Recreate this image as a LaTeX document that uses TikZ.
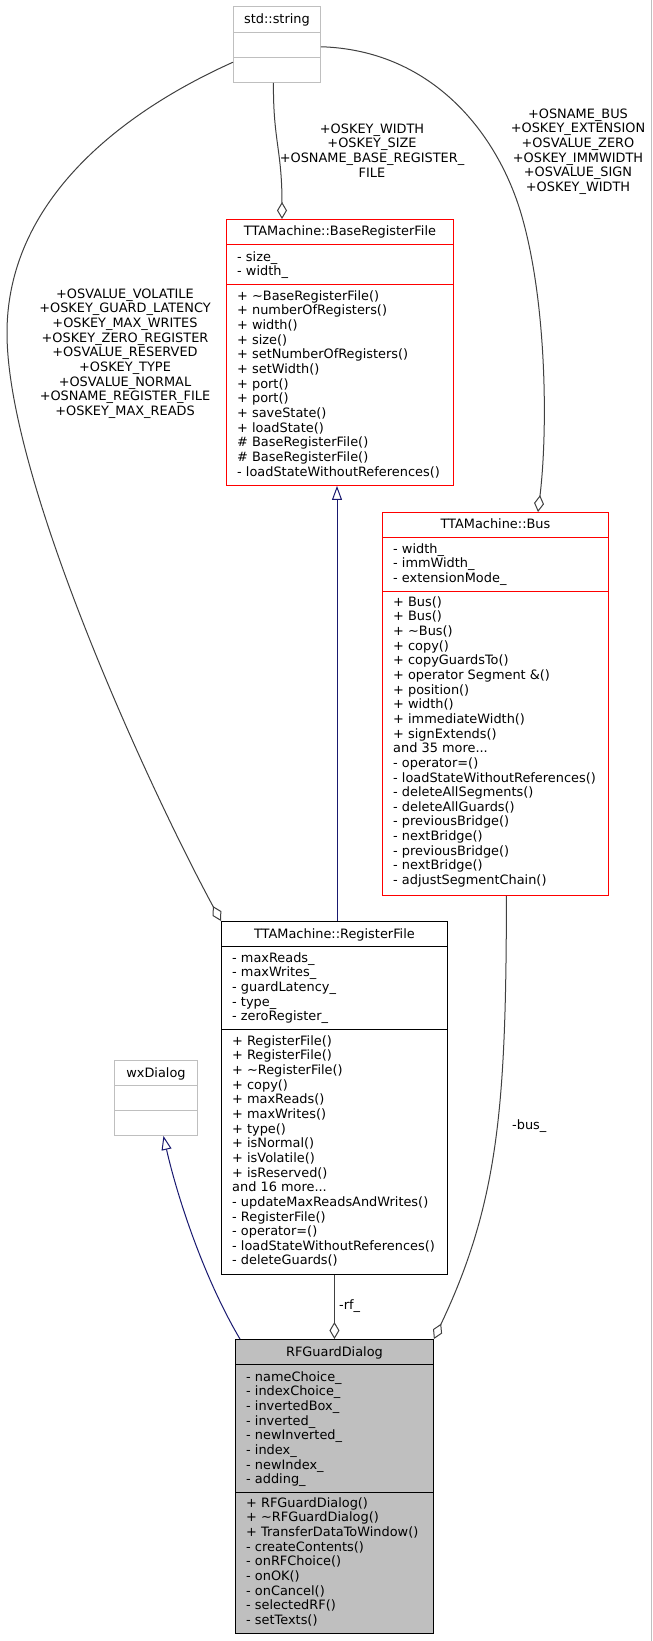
\documentclass[tikz,border=0pt]{standalone}
\usepackage{fontspec}
\setmainfont{DejaVu Sans}
\usetikzlibrary{arrows.meta, positioning, calc}

\definecolor{edgegray}{HTML}{404040}
\definecolor{inheritblue}{HTML}{191970}
\definecolor{boxgray}{HTML}{BFBFBF}

\tikzset{
	umlfont/.style={font=\fontsize{12.9}{14.65}\selectfont},
	classbox/.style={draw, rectangle, anchor=north west, inner sep=0pt, line width=0.9pt},
	classname/.style={umlfont, inner sep=0pt, text height=9.4pt, text depth=0pt},
	members/.style={umlfont, inner sep=0pt, anchor=north west, align=left, execute at begin node=\strut},
	edgelabel/.style={umlfont, inner sep=0pt, anchor=north, align=center, execute at begin node=\strut},
	aggregation/.style={edgegray, line width=1pt, -{Diamond[open, length=17pt, width=10pt]}},
	inheritance/.style={inheritblue, line width=1pt, -{Triangle[open, length=14pt, width=10pt]}},
}

\begin{document}
\begin{tikzpicture}[x=1pt, y=1pt]
		\fill[white] (0,0) rectangle (653,-1641);
		\useasboundingbox (0,0) rectangle (653,-1641);
		\draw[boxgray, line width=1pt] (651.5,0) -- (651.5,-1641);
		
		% std::string
		\node[classbox, draw=boxgray, minimum width=87pt, minimum height=76pt] (str) at (233,-6) {};
		\node[classname] (str-name) at (str.north |- 0,-18.5) {std::string};
		\draw[boxgray, line width=0.9pt] (str.west |- 0,-32) -- (str.east |- 0,-32);
		\draw[boxgray, line width=0.9pt] (str.west |- 0,-57) -- (str.east |- 0,-57);
		
		% TTAMachine::BaseRegisterFile
		\node[classbox, draw=red, minimum width=227pt, minimum height=266pt] (brf) at (226,-219) {};
		\node[classname] (brf-name) at (brf.north |- 0,-231) {TTAMachine::BaseRegisterFile};
		\draw[red, line width=0.9pt] (brf.west |- 0,-244) -- (brf.east |- 0,-244);
		\draw[red, line width=0.9pt] (brf.west |- 0,-284) -- (brf.east |- 0,-284);
		\node[members] (brf-attr) at (237,-251.2) {- size\_\\- width\_};
		\node[members] (brf-ops) at (237,-290.2) {+ \textasciitilde BaseRegisterFile()\\+ numberOfRegisters()\\+ width()\\+ size()\\+ setNumberOfRegisters()\\+ setWidth()\\+ port()\\+ port()\\+ saveState()\\+ loadState()\\\# BaseRegisterFile()\\\# BaseRegisterFile()\\- loadStateWithoutReferences()};
		
		% TTAMachine::Bus
		\node[classbox, draw=red, minimum width=226pt, minimum height=383pt] (bus) at (382,-512) {};
		\node[classname] (bus-name) at (bus.north |- 0,-524) {TTAMachine::Bus};
		\draw[red, line width=0.9pt] (bus.west |- 0,-537) -- (bus.east |- 0,-537);
		\draw[red, line width=0.9pt] (bus.west |- 0,-591) -- (bus.east |- 0,-591);
		\node[members] (bus-attr) at (393,-543.2) {- width\_\\- immWidth\_\\- extensionMode\_};
		\node[members] (bus-ops) at (393,-596.2) {+ Bus()\\+ Bus()\\+ \textasciitilde Bus()\\+ copy()\\+ copyGuardsTo()\\+ operator Segment \&()\\+ position()\\+ width()\\+ immediateWidth()\\+ signExtends()\\and 35 more...\\- operator=()\\- loadStateWithoutReferences()\\- deleteAllSegments()\\- deleteAllGuards()\\- previousBridge()\\- nextBridge()\\- previousBridge()\\- nextBridge()\\- adjustSegmentChain()};
		
		% TTAMachine::RegisterFile
		\node[classbox, minimum width=226pt, minimum height=353pt] (rf) at (221,-921) {};
		\node[classname] (rf-name) at (rf.north |- 0,-933.5) {TTAMachine::RegisterFile};
		\draw[line width=0.9pt] (rf.west |- 0,-946) -- (rf.east |- 0,-946);
		\draw[line width=0.9pt] (rf.west |- 0,-1029) -- (rf.east |- 0,-1029);
		\node[members] (rf-attr) at (232,-952.2) {- maxReads\_\\- maxWrites\_\\- guardLatency\_\\- type\_\\- zeroRegister\_};
		\node[members] (rf-ops) at (232,-1035.2) {+ RegisterFile()\\+ RegisterFile()\\+ \textasciitilde RegisterFile()\\+ copy()\\+ maxReads()\\+ maxWrites()\\+ type()\\+ isNormal()\\+ isVolatile()\\+ isReserved()\\and 16 more...\\- updateMaxReadsAndWrites()\\- RegisterFile()\\- operator=()\\- loadStateWithoutReferences()\\- deleteGuards()};
		
		% wxDialog
		\node[classbox, draw=boxgray, minimum width=83pt, minimum height=75pt] (wx) at (114,-1060) {};
		\node[classname] (wx-name) at (wx.north |- 0,-1072.5) {wxDialog};
		\draw[boxgray, line width=0.9pt] (wx.west |- 0,-1085) -- (wx.east |- 0,-1085);
		\draw[boxgray, line width=0.9pt] (wx.west |- 0,-1110) -- (wx.east |- 0,-1110);
		
		% RFGuardDialog
		\node[classbox, fill=boxgray, minimum width=198pt, minimum height=294pt] (rfg) at (235,-1339) {};
		\node[classname] (rfg-name) at (rfg.north |- 0,-1351.5) {RFGuardDialog};
		\draw[line width=0.9pt] (rfg.west |- 0,-1364) -- (rfg.east |- 0,-1364);
		\draw[line width=0.9pt] (rfg.west |- 0,-1492) -- (rfg.east |- 0,-1492);
		\node[members] (rfg-attr) at (246,-1371.2) {- nameChoice\_\\- indexChoice\_\\- invertedBox\_\\- inverted\_\\- newInverted\_\\- index\_\\- newIndex\_\\- adding\_};
		\node[members] (rfg-ops) at (246,-1497.2) {+ RFGuardDialog()\\+ \textasciitilde RFGuardDialog()\\+ TransferDataToWindow()\\- createContents()\\- onRFChoice()\\- onOK()\\- onCancel()\\- selectedRF()\\- setTexts()};
		
		% Relations
		\draw[aggregation] (str.202) .. controls (122,-112) and (7,-200) .. (7,-333) .. controls (7,-480) and (150,-790) .. (rf.north west);
		\draw[aggregation] ([xshift=-3.5pt]str.south) .. controls (273,-140) and (282,-150) .. ([xshift=56pt]brf.north west);
		\draw[aggregation] (str.357) .. controls (430,-50) and (495,-130) .. (520,-210) .. controls (547,-298) and (548,-430) .. ([xshift=156pt]bus.north west);
		\draw[inheritance] (rf.north -| 337,0) -- (brf.south -| 337,0);
		\draw[aggregation] (rf.south) -- (rfg.north);
		\draw[aggregation] ([xshift=11pt]bus.south) .. controls (506,-1100) and (500,-1200) .. (rfg.north east);
		\draw[inheritance] ([xshift=5pt]rfg.north west) .. controls (205,-1280) and (178,-1200) .. ([xshift=7.5pt]wx.south);
		
		% Relation labels
		\node[edgelabel] (rf-keys) at (125,-288.5) {+OSVALUE\_VOLATILE\\+OSKEY\_GUARD\_LATENCY\\+OSKEY\_MAX\_WRITES\\+OSKEY\_ZERO\_REGISTER\\+OSVALUE\_RESERVED\\+OSKEY\_TYPE\\+OSVALUE\_NORMAL\\+OSNAME\_REGISTER\_FILE\\+OSKEY\_MAX\_READS};
		\node[edgelabel] (brf-keys) at (372,-123.5) {+OSKEY\_WIDTH\\+OSKEY\_SIZE\\+OSNAME\_BASE\_REGISTER\_\\FILE};
		\node[edgelabel] (bus-keys) at (578,-108.5) {+OSNAME\_BUS\\+OSKEY\_EXTENSION\\+OSVALUE\_ZERO\\+OSKEY\_IMMWIDTH\\+OSVALUE\_SIGN\\+OSKEY\_WIDTH};
		\node[umlfont, inner sep=0pt, anchor=west] (rf-role) at (339,-1306) {-rf\_};
		\node[umlfont, inner sep=0pt, anchor=west] (bus-role) at (512,-1126) {-bus\_};
\end{tikzpicture}
\end{document}
